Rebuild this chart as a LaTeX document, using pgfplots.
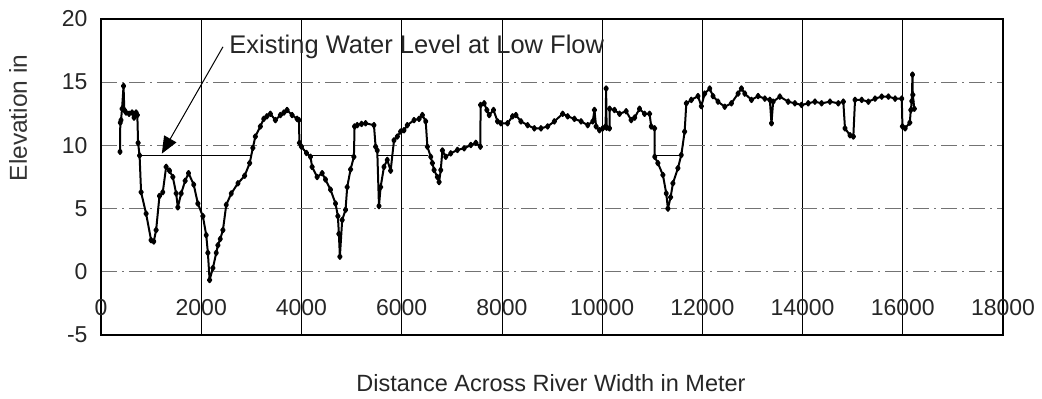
\documentclass[border=0pt]{standalone}
\usepackage{fontspec}
\setmainfont{Liberation Sans}
\usepackage{pgfplots}
\pgfplotsset{compat=1.18}
\usetikzlibrary{arrows.meta}

\begin{document}
\begin{tikzpicture}
\useasboundingbox (-101bp,-64bp) rectangle (941bp,335bp);
\begin{axis}[
  at={(0,0)}, anchor=south west,
  scale only axis, width=902bp, height=316bp,
  xmin=0, xmax=18000, ymin=-5, ymax=20,
  xtick={0,2000,...,18000}, ytick={-5,0,...,20},
  scaled x ticks=false,
  /pgf/number format/assume math mode=true,
  /pgf/number format/1000 sep={},
  major tick length=0pt,
  xmajorgrids, ymajorgrids,
  x grid style={black, line width=0.6bp},
  y grid style={black!55, line width=0.6bp, dash pattern=on 16bp off 5bp on 2bp off 5bp},
  axis line style={line width=1.2bp},
  tick label style={font=\fontsize{23bp}{27bp}\selectfont, text=black!85},
  xticklabel style={anchor=base, yshift=20bp},
  yticklabel style={xshift=-10bp},
]
% river bed profile
\addplot[black, line width=2bp, line join=round, mark=diamond*, mark size=2.2bp] coordinates {
(380,9.5) (385,11.8) (400,12.0) (420,12.9) (450,14.7) (465,12.8) (500,12.6)
(560,12.5) (620,12.6) (660,12.2) (700,12.6) (725,12.4) (740,10.2) (770,9.2)
(800,6.3) (900,4.6) (1000,2.5) (1053,2.4) (1100,3.3) (1167,6.0) (1233,6.3)
(1300,8.3) (1367,8.0) (1433,7.5) (1500,6.2) (1533,5.1) (1600,6.2) (1680,7.2)
(1747,7.8) (1850,6.9) (1933,5.4) (2033,4.4) (2100,2.9) (2133,1.5) (2167,-0.65)
(2233,0.3) (2300,1.5) (2333,2.1) (2380,2.6) (2433,3.3) (2500,5.3) (2600,6.2)
(2733,7.0) (2867,7.6) (2967,8.6) (3030,9.8) (3080,10.7) (3180,11.5) (3247,12.1)
(3310,12.3) (3380,12.5) (3480,12.0) (3580,12.4) (3650,12.6) (3713,12.8) (3813,12.4)
(3913,12.1) (3950,12.0) (3960,10.2) (4000,9.9) (4100,9.4) (4180,9.1) (4213,8.3)
(4313,7.5) (4413,7.8) (4480,7.3) (4580,6.5) (4680,5.4) (4727,4.4) (4747,3.0)
(4767,1.2) (4813,4.1) (4880,4.9) (4913,6.7) (4980,8.1) (5047,9.1) (5060,11.5)
(5113,11.6) (5200,11.7) (5280,11.75) (5447,11.6) (5480,9.9) (5513,9.6) (5547,5.2)
(5580,6.7) (5647,8.3) (5713,8.85) (5780,8.0) (5847,10.4) (5913,10.7) (5980,11.1)
(6047,11.2) (6113,11.6) (6247,12.0) (6347,12.1) (6413,12.4) (6480,11.9) (6513,9.9)
(6580,9.1) (6613,8.6) (6647,8.05) (6713,7.5) (6747,7.1) (6780,8.05) (6813,9.6)
(6880,9.1) (6980,9.37) (7113,9.64) (7247,9.77) (7380,10.03) (7480,10.2) (7570,9.9)
(7575,13.2) (7647,13.33) (7700,12.8) (7747,12.4) (7833,12.8) (7913,11.9) (7980,11.75)
(8113,11.75) (8213,12.3) (8280,12.4) (8380,11.9) (8513,11.6) (8647,11.35) (8780,11.35)
(8913,11.5) (9047,11.9) (9213,12.5) (9313,12.3) (9447,12.1) (9580,11.9) (9713,11.6)
(9813,11.9) (9847,12.8) (9880,11.5) (9947,11.2) (10013,11.35) (10070,11.5) (10080,14.5)
(10090,11.4) (10147,11.35) (10150,12.9) (10247,12.8) (10347,12.5) (10480,12.7) (10580,12.0)
(10650,12.2) (10747,12.9) (10847,12.5) (10947,12.5) (10980,11.5) (11047,11.35) (11050,9.1)
(11113,8.6) (11213,7.66) (11280,6.2) (11313,5.0) (11367,5.9) (11413,7.0) (11513,8.2)
(11580,9.24) (11647,11.09) (11680,13.33) (11780,13.6) (11913,13.9) (11980,13.1) (12047,14.1)
(12147,14.5) (12213,13.9) (12313,13.46) (12447,13.06) (12580,13.33) (12713,14.1) (12780,14.5)
(12847,14.1) (12980,13.6) (13113,13.9) (13247,13.7) (13347,13.6) (13380,11.75) (13413,13.46)
(13547,13.86) (13713,13.46) (13847,13.33) (13980,13.2) (14113,13.33) (14247,13.46) (14380,13.33)
(14547,13.46) (14713,13.33) (14813,13.46) (14847,11.35) (14947,10.8) (15013,10.7) (15047,13.6)
(15180,13.6) (15313,13.46) (15447,13.7) (15580,13.86) (15713,13.86) (15847,13.7) (15980,13.7)
(15993,11.5) (16047,11.35) (16140,11.8) (16160,12.8) (16180,13.5) (16193,15.6) (16200,14.0)
(16230,12.9)
};
% water level at low flow, drawn over the wetted reaches
\addplot[black, line width=1bp] coordinates {(770,9.2) (3000,9.2)};
\addplot[black, line width=1bp] coordinates {(4180,9.2) (5047,9.2)};
\addplot[black, line width=1bp] coordinates {(5500,9.2) (6520,9.2)};
\addplot[black, line width=1bp] coordinates {(11047,9.2) (11580,9.2)};
% annotation
\draw[black, line width=1bp, -{Triangle[length=17bp,width=14bp]}]
  (axis cs:2434,17.8) -- (axis cs:1214,9.35);
\node[anchor=west, inner sep=0pt, font=\fontsize{25.5bp}{30bp}\selectfont, text=black!85]
  at (axis cs:2560,17.8) {Existing Water Level at Low Flow};
\end{axis}
\node[rotate=90, font=\fontsize{24.5bp}{29bp}\selectfont, text=black!80] at (-83bp,217bp) {Elevation in};
\node[font=\fontsize{23.5bp}{28bp}\selectfont, text=black!85] at (450bp,-48bp) {Distance Across River Width in Meter};
\end{tikzpicture}
\end{document}
